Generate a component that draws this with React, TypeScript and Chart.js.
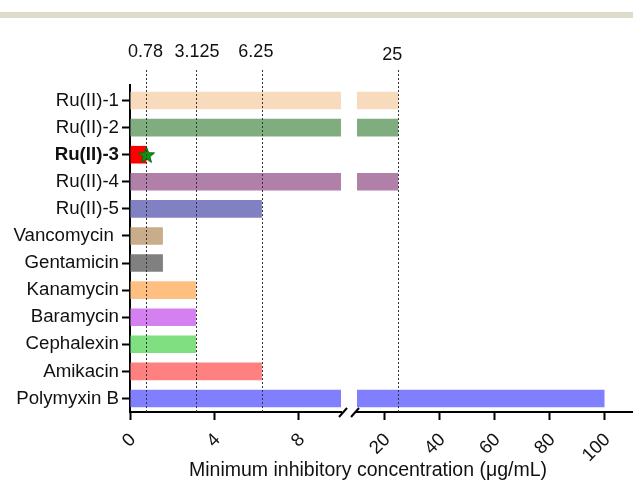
import React, { useEffect, useRef } from 'react';
import { Chart, registerables } from 'chart.js';

Chart.register(...registerables);

const categories = [
  'Ru(II)-1', 'Ru(II)-2', 'Ru(II)-3', 'Ru(II)-4', 'Ru(II)-5', 'Vancomycin ',
  'Gentamicin', 'Kanamycin', 'Baramycin', 'Cephalexin', 'Amikacin', 'Polymyxin B',
];
const micValues = [25, 25, 0.78, 25, 6.25, 1.56, 1.56, 3.125, 3.125, 3.125, 6.25, 100];
const barColors = [
  '#f8dabc', '#80ad80', '#ff0000', '#b080a8', '#8080c2', '#c9ad8b',
  '#808080', '#ffbf80', '#d580f0', '#80df80', '#ff8080', '#8080ff',
];
const leftRange = [0, 10];
const rightRange = [10, 110];
const leftTicks = [0, 4, 8];
const rightTicks = [20, 40, 60, 80, 100];
const refLines = [0.78, 3.125, 6.25, 25];
const refLabels = ['0.78', '3.125', '6.25', '25'];
const refLabelDx = [-1, 1, -6, -6];
const refLabelY = [52, 52, 52, 55];
const starLabel = 'Ru(II)-3';
const starValue = 0.78;
const boldIndex = 2;
const xTitle = 'Minimum inhibitory concentration (μg/mL)';

const FONT = "'Liberation Sans', Arial, sans-serif";

function makeStar(size: number) {
  const c = document.createElement('canvas');
  c.width = size;
  c.height = size;
  const g = c.getContext('2d')!;
  const cx = size / 2, cy = size / 2 + 0.8, R = size / 2 - 1, r = R * 0.42;
  g.beginPath();
  for (let i = 0; i < 10; i++) {
    const ang = -Math.PI / 2 + (i * Math.PI) / 5;
    const rad = i % 2 === 0 ? R : r;
    g.lineTo(cx + rad * Math.cos(ang), cy + rad * Math.sin(ang));
  }
  g.closePath();
  g.fillStyle = '#129212';
  g.fill();
  g.strokeStyle = '#0a6a0a';
  g.lineWidth = 1;
  g.stroke();
  return c;
}

const LEFT_W = 211;
const GAP = 16;
const AXIS_RIGHT = 632;

const brokenAxisPlugin = {
  id: 'brokenAxis',
  afterLayout(chart: any) {
    const area = chart.chartArea;
    const xs = chart.scales.x;
    const x2 = chart.scales.x2;
    xs.left = area.left;
    xs.right = area.left + LEFT_W;
    xs.width = LEFT_W;
    xs.configure();
    x2.left = xs.right + GAP;
    x2.right = AXIS_RIGHT;
    x2.width = x2.right - x2.left;
    x2.configure();
  },
  afterDatasetsDraw(chart: any) {
    const ctx = chart.ctx;
    const area = chart.chartArea;
    ctx.save();
    ctx.strokeStyle = '#333';
    ctx.lineWidth = 1;
    ctx.setLineDash([2, 2]);
    refLines.forEach((v) => {
      const sc = v <= leftRange[1] ? chart.scales.x : chart.scales.x2;
      const px = Math.round(sc.getPixelForValue(v)) + 0.5;
      ctx.beginPath();
      ctx.moveTo(px, 70);
      ctx.lineTo(px, area.bottom);
      ctx.stroke();
    });
    ctx.restore();
  },
  afterDraw(chart: any) {
    const ctx = chart.ctx;
    const xs = chart.scales.x;
    const x2 = chart.scales.x2;
    const area = chart.chartArea;
    const y = area.bottom;
    ctx.save();
    // extend y axis line slightly above the plot area
    ctx.fillStyle = '#000';
    ctx.fillRect(area.left - 1, area.top - 3, 2, 4);
    // reference labels
    ctx.fillStyle = '#111';
    ctx.font = `18px ${FONT}`;
    ctx.textAlign = 'center';
    ctx.textBaseline = 'middle';
    refLines.forEach((v, i) => {
      const sc = v <= leftRange[1] ? xs : x2;
      const px = sc.getPixelForValue(v);
      ctx.fillText(refLabels[i], px + refLabelDx[i], refLabelY[i]);
    });
    // axis break marks
    ctx.strokeStyle = '#000';
    ctx.lineWidth = 2;
    ctx.setLineDash([]);
    [xs.right + 2, x2.left - 2].forEach((cx) => {
      ctx.beginPath();
      ctx.moveTo(cx - 4, y + 5);
      ctx.lineTo(cx + 4, y - 4);
      ctx.stroke();
    });
    // axis title
    ctx.font = `19.5px ${FONT}`;
    ctx.textAlign = 'center';
    ctx.textBaseline = 'middle';
    ctx.fillText(xTitle, 368, 471);
    ctx.restore();
  },
};

export default function App() {
  const ref = useRef<HTMLCanvasElement | null>(null);

  useEffect(() => {
    if (!ref.current) return;
    const star = makeStar(19);
    const leftData = micValues.map((v) => Math.min(v, leftRange[1]));
    const rightData = micValues.map((v) => (v > leftRange[1] ? [rightRange[0], v] : null));

    const xAxisCommon = (ticksList: number[], range: number[], weight: number) => ({
      type: 'linear',
      position: 'bottom',
      stack: 'brk',
      stackWeight: weight,
      min: range[0],
      max: range[1],
      afterBuildTicks: (s: any) => {
        s.ticks = ticksList.map((v) => ({ value: v }));
      },
      afterFit: (s: any) => {
        s.height = 70;
      },
      ticks: {
        minRotation: 45,
        maxRotation: 45,
        autoSkip: false,
        padding: 9,
        labelOffset: 3,
        color: '#111',
        font: { family: FONT, size: 18.5 },
      },
      grid: {
        drawOnChartArea: false,
        tickLength: 8,
        tickWidth: 2,
        tickColor: '#000',
      },
      border: { width: 2, color: '#000' },
    });

    const chart = new Chart(ref.current, {
      type: 'bar',
      data: {
        labels: categories,
        datasets: [
          {
            type: 'scatter',
            data: [{ x: starValue, y: starLabel }],
            xAxisID: 'x',
            yAxisID: 'y',
            pointStyle: star,
            pointRadius: 9,
            order: 0,
          } as any,
          {
            type: 'bar',
            data: leftData,
            backgroundColor: barColors,
            xAxisID: 'x',
            yAxisID: 'y',
            grouped: false,
            barPercentage: 0.65,
            categoryPercentage: 1,
            borderWidth: 0,
            order: 1,
          },
          {
            type: 'bar',
            data: rightData as any,
            backgroundColor: barColors,
            xAxisID: 'x2',
            yAxisID: 'y',
            grouped: false,
            barPercentage: 0.65,
            categoryPercentage: 1,
            borderWidth: 0,
            order: 1,
          },
        ],
      },
      options: {
        indexAxis: 'y',
        animation: false,
        responsive: false,
        maintainAspectRatio: false,
        layout: { padding: { top: 87, right: 1, left: 0, bottom: 0 } },
        plugins: {
          legend: { display: false },
          tooltip: { enabled: false },
        },
        scales: {
          y: {
            type: 'category',
            position: 'left',
            offset: true,
            afterFit: (s: any) => {
              s.width = 130;
            },
            grid: {
              drawOnChartArea: false,
              offset: false,
              tickLength: 8,
              tickWidth: 2,
              tickColor: '#000',
            },
            border: { width: 2, color: '#000' },
            ticks: {
              padding: 3,
              color: '#111',
              font: (c: any) => ({
                family: FONT,
                size: 18.7,
                weight: c.index === boldIndex ? 'bold' : 'normal',
              }),
            },
          },
          x: xAxisCommon(leftTicks, leftRange, LEFT_W) as any,
          x2: xAxisCommon(rightTicks, rightRange, 290) as any,
        },
      },
      plugins: [brokenAxisPlugin],
    });
    return () => chart.destroy();
  }, []);

  return (
    <div style={{ position: 'absolute', left: 0, top: 0, width: 633, height: 482, background: '#fff' }}>
      <div style={{ position: 'absolute', left: 0, top: 12, width: 633, height: 6, background: '#e0dccb' }} />
      <canvas ref={ref} width={633} height={482} style={{ position: 'absolute', left: 0, top: 0 }} />
    </div>
  );
}
